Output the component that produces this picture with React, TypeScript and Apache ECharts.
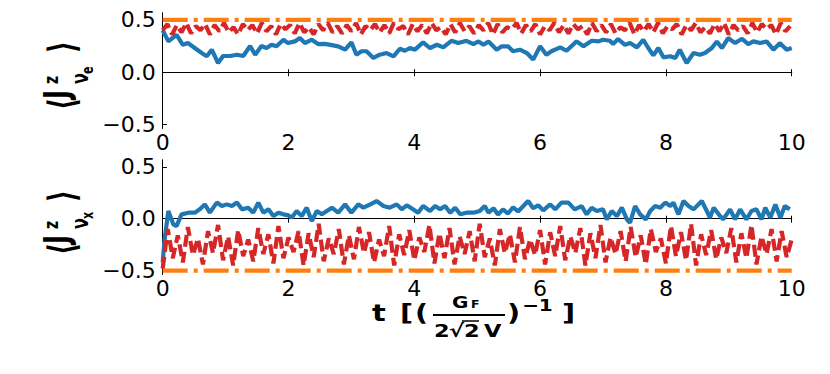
import React, { useEffect, useRef } from "react";
import * as echarts from "echarts";

const xTicks = [0, 2, 4, 6, 8, 10];
const yTicks = [-0.5, 0.0, 0.5];

// top panel: <J^z_{nu_e}>, blue solid [t, value]
const blueTop: [number, number][] = [
  [0, 0.40], [0.09, 0.294], [0.22, 0.357], [0.32, 0.262], [0.40, 0.278], [0.51, 0.231], [0.62, 0.183],
  [0.70, 0.152], [0.78, 0.215], [0.88, 0.088], [0.96, 0.155], [1.07, 0.155], [1.18, 0.167], [1.28, 0.155],
  [1.39, 0.25], [1.47, 0.167], [1.57, 0.25], [1.65, 0.231], [1.73, 0.262], [1.81, 0.247], [1.92, 0.31],
  [1.99, 0.278], [2.10, 0.294], [2.18, 0.326], [2.26, 0.278], [2.37, 0.31], [2.47, 0.269], [2.58, 0.27],
  [2.71, 0.256], [2.79, 0.247], [2.90, 0.215], [3.00, 0.285], [3.08, 0.167], [3.16, 0.2], [3.24, 0.2],
  [3.35, 0.136], [3.45, 0.167], [3.56, 0.183], [3.67, 0.152], [3.77, 0.224], [3.85, 0.205], [3.93, 0.231],
  [4.01, 0.215], [4.14, 0.285], [4.25, 0.231], [4.36, 0.262], [4.46, 0.237], [4.59, 0.3], [4.70, 0.278],
  [4.83, 0.3], [4.94, 0.269], [5.02, 0.294], [5.10, 0.262], [5.18, 0.294], [5.31, 0.215], [5.39, 0.247],
  [5.49, 0.247], [5.57, 0.2], [5.68, 0.215], [5.79, 0.183], [5.89, 0.12], [6.00, 0.247], [6.10, 0.167],
  [6.18, 0.2], [6.32, 0.237], [6.42, 0.205], [6.58, 0.294], [6.69, 0.247], [6.82, 0.3], [6.93, 0.294],
  [7.00, 0.31], [7.11, 0.3], [7.16, 0.269], [7.24, 0.316], [7.35, 0.262], [7.43, 0.278], [7.54, 0.237],
  [7.64, 0.31], [7.72, 0.231], [7.80, 0.161], [7.88, 0.231], [7.96, 0.142], [8.07, 0.152], [8.15, 0.136],
  [8.22, 0.215], [8.33, 0.088], [8.44, 0.183], [8.54, 0.167], [8.62, 0.183], [8.73, 0.231], [8.81, 0.294],
  [8.89, 0.231], [8.99, 0.326], [9.10, 0.278], [9.21, 0.319], [9.31, 0.269], [9.39, 0.294], [9.50, 0.278],
  [9.60, 0.294], [9.71, 0.215], [9.81, 0.278], [9.92, 0.215], [10.0, 0.231],
];

// top panel red dashed, sampled every TOP_RED_STEP
const TOP_RED_STEP = 0.075;
const redTop = [
  0.40, 0.46, 0.36, 0.45, 0.38, 0.47, 0.37, 0.44, 0.40, 0.46, 0.36, 0.45, 0.39, 0.47, 0.38, 0.43, 0.36, 0.46, 0.40, 0.45,
  0.37, 0.47, 0.39, 0.44, 0.36, 0.46, 0.41, 0.45, 0.37, 0.47, 0.38, 0.43, 0.36, 0.46, 0.40, 0.47, 0.38, 0.44, 0.37, 0.45,
  0.39, 0.47, 0.36, 0.44, 0.40, 0.46, 0.38, 0.45, 0.37, 0.47, 0.41, 0.44, 0.36, 0.46, 0.39, 0.45, 0.37, 0.47, 0.40, 0.43,
  0.36, 0.46, 0.38, 0.47, 0.39, 0.44, 0.37, 0.45, 0.40, 0.47, 0.36, 0.46, 0.38, 0.43, 0.41, 0.47, 0.37, 0.45, 0.39, 0.46,
  0.36, 0.44, 0.40, 0.47, 0.38, 0.45, 0.37, 0.46, 0.41, 0.44, 0.36, 0.47, 0.39, 0.45, 0.38, 0.46, 0.37, 0.43, 0.40, 0.47,
  0.36, 0.45, 0.39, 0.46, 0.38, 0.47, 0.37, 0.44, 0.41, 0.46, 0.36, 0.45, 0.40, 0.47, 0.38, 0.43, 0.37, 0.46, 0.39, 0.47,
  0.36, 0.45, 0.40, 0.44, 0.37, 0.47, 0.38, 0.46, 0.41, 0.45, 0.36, 0.47, 0.39, 0.44,
];
const orangeTop = 0.5;

// bottom panel: <J^z_{nu_x}>, blue solid [t, value]
const blueBottom: [number, number][] = [
  [0, -0.42], [0.03, -0.2], [0.09, 0.074], [0.17, -0.055], [0.22, -0.071], [0.30, 0.042], [0.41, 0.058],
  [0.51, 0.058], [0.59, 0.09], [0.67, 0.138], [0.75, 0.058], [0.86, 0.155], [0.94, 0.122], [1.02, 0.138],
  [1.10, 0.122], [1.18, 0.155], [1.26, 0.09], [1.36, 0.106], [1.44, 0.058], [1.52, 0.155], [1.60, 0.058],
  [1.68, 0.09], [1.76, 0.025], [1.84, 0.058], [1.92, 0.042], [2.00, 0.032], [2.05, 0.01], [2.13, 0.074],
  [2.21, 0.025], [2.29, 0.106], [2.37, -0.023], [2.45, 0.074], [2.53, 0.042], [2.69, 0.106], [2.79, 0.058],
  [2.90, 0.138], [3.00, 0.058], [3.11, 0.138], [3.19, 0.106], [3.30, 0.138], [3.40, 0.17], [3.51, 0.122],
  [3.61, 0.106], [3.72, 0.138], [3.80, 0.09], [3.88, 0.129], [3.98, 0.09], [4.06, 0.058], [4.14, 0.122],
  [4.25, 0.074], [4.33, 0.122], [4.41, 0.09], [4.49, 0.122], [4.57, 0.058], [4.65, 0.106], [4.73, 0.042],
  [4.83, 0.058], [4.94, 0.058], [5.04, 0.074], [5.12, 0.122], [5.18, 0.058], [5.26, 0.1], [5.33, 0.04],
  [5.41, 0.09], [5.49, 0.05], [5.57, 0.11], [5.65, 0.07], [5.73, 0.12], [5.81, 0.17], [5.89, 0.1],
  [5.97, 0.13], [6.05, 0.08], [6.16, 0.138], [6.24, 0.09], [6.34, 0.155], [6.45, 0.155], [6.55, 0.09],
  [6.66, 0.122], [6.74, 0.042], [6.82, 0.106], [6.90, 0.074], [7.00, 0.09], [7.06, -0.007], [7.14, 0.074],
  [7.22, 0.025], [7.30, 0.106], [7.38, -0.007], [7.43, -0.039], [7.51, 0.122], [7.59, 0.042], [7.68, -0.007],
  [7.75, 0.074], [7.83, 0.122], [7.91, 0.106], [7.99, 0.155], [8.07, 0.122], [8.12, 0.155], [8.20, 0.042],
  [8.28, 0.17], [8.36, 0.122], [8.44, 0.09], [8.57, 0.17], [8.65, 0.074], [8.70, 0.01], [8.76, 0.106],
  [8.84, 0.042], [8.91, -0.007], [9.02, 0.09], [9.10, -0.007], [9.18, 0.09], [9.28, -0.007], [9.36, 0.074],
  [9.44, 0.09], [9.52, -0.007], [9.58, 0.106], [9.66, 0.01], [9.74, 0.138], [9.82, 0.01], [9.89, 0.122],
  [9.97, 0.09],
];

// bottom panel red dashed, sampled every BOTTOM_RED_STEP
const BOTTOM_RED_STEP = 0.08;
const redBottom = [
  -0.48, -0.10, -0.38, -0.16, -0.42, -0.08, -0.35, -0.19, -0.44, -0.12, -0.33, -0.06, -0.40, -0.17, -0.45, -0.11, -0.36, -0.20, -0.41, -0.09,
  -0.34, -0.15, -0.43, -0.07, -0.38, -0.18, -0.32, -0.12, -0.45, -0.14, -0.37, -0.05, -0.41, -0.19, -0.34, -0.10, -0.44, -0.16, -0.39, -0.08,
  -0.33, -0.13, -0.42, -0.20, -0.36, -0.07, -0.45, -0.15, -0.35, -0.11, -0.40, -0.18, -0.32, -0.06, -0.43, -0.14, -0.38, -0.09, -0.44, -0.17,
  -0.34, -0.12, -0.41, -0.05, -0.37, -0.19, -0.45, -0.10, -0.33, -0.15, -0.42, -0.08, -0.39, -0.20, -0.35, -0.11, -0.44, -0.13, -0.36, -0.07,
  -0.40, -0.17, -0.33, -0.09, -0.45, -0.14, -0.38, -0.06, -0.42, -0.18, -0.34, -0.12, -0.41, -0.08, -0.37, -0.16, -0.44, -0.10, -0.32, -0.19,
  -0.43, -0.07, -0.36, -0.13, -0.40, -0.05, -0.45, -0.15, -0.35, -0.11, -0.39, -0.18, -0.33, -0.09, -0.42, -0.14, -0.38, -0.06, -0.44, -0.17,
  -0.34, -0.10, -0.41, -0.12, -0.37, -0.20,
];
const orangeBottom = -0.5;

const Y_MIN = -0.535;
const Y_MAX = 0.565;

const BLUE = "#1f77b4";
const ORANGE = "#ff7f0e";
const RED = "#d62728";
const FONT = "DejaVu Sans";

const fmtY = (v: number) => (v < 0 ? "\u2212" : "") + Math.abs(v).toFixed(1);

const txt = (text: string, x: number, y: number, fontSize: number, extra: any = {}) => ({
  type: "text",
  x,
  y,
  ...extra,
  style: { text, fontSize, fill: "#000", fontFamily: FONT, fontWeight: "bold", verticalAlign: "middle", align: "left" },
});

// rotated label; local x runs upward on screen, local y runs rightward (scaled)
function yLabel(cx: number, cy: number, flavour: string, closeAt: number) {
  return {
    type: "group",
    x: cx,
    y: cy,
    rotation: Math.PI / 2,
    scaleY: 1.45,
    children: [
      txt("\u27E8", -34, -1, 26),
      txt("J", -23, -5, 24),
      txt("z", -8, -9, 14),
      txt("\u03BD", -8, 11, 16),
      txt(flavour, 2, 16, 11),
      txt("\u27E9", closeAt, -1, 26),
    ],
  };
}

function xTitle() {
  const s = { scaleX: 1.25 };
  return {
    type: "group",
    children: [
      txt("t", 372, 313, 23, s),
      txt("[", 400, 313, 23, s),
      txt("(", 415, 313, 23, s),
      txt("G", 452, 302, 16, s),
      txt("F", 471, 305, 10, s),
      { type: "line", shape: { x1: 433, y1: 315, x2: 505, y2: 315 }, style: { stroke: "#000", lineWidth: 2 } },
      txt("2", 434, 331, 18, s),
      txt("\u221A", 449, 331, 18, s),
      { type: "line", shape: { x1: 462, y1: 321, x2: 479, y2: 321 }, style: { stroke: "#000", lineWidth: 1.5 } },
      txt("2", 464, 331, 18, s),
      txt("V", 484, 331, 18, s),
      txt(")", 507, 313, 23, s),
      txt("\u22121", 522, 305, 16, s),
      txt("]", 562, 313, 23, s),
    ],
  };
}

export default function App() {
  const ref = useRef<HTMLDivElement>(null);
  useEffect(() => {
    if (!ref.current) return;
    const chart = echarts.init(ref.current, undefined, { renderer: "svg" });
    const axisLine = { show: true, lineStyle: { color: "#000", width: 1 } };
    const mkX = (gi: number) => [
      {
        gridIndex: gi,
        type: "value",
        min: 0,
        max: 10,
        interval: 2,
        position: "bottom",
        axisLine,
        axisTick: { show: true, length: 4, lineStyle: { color: "#000" } },
        axisLabel: { fontSize: 22, color: "#000", fontFamily: FONT, margin: 3, formatter: (v: number) => (xTicks.includes(v) ? String(v) : "") },
        splitLine: { show: false },
      },
      {
        gridIndex: gi,
        type: "value",
        min: 0,
        max: 10,
        interval: 2,
        position: "top",
        axisLine,
        axisTick: { show: true, length: 3, lineStyle: { color: "#000" } },
        axisLabel: { show: false },
        splitLine: { show: false },
      },
    ];
    const mkY = (gi: number) => [
      {
        gridIndex: gi,
        type: "value",
        min: Y_MIN,
        max: Y_MAX,
        position: "left",
        axisLine,
        axisTick: { show: true, length: 4, inside: true, customValues: yTicks, lineStyle: { color: "#000" } },
        axisLabel: { fontSize: 22, color: "#000", fontFamily: FONT, margin: 7, customValues: yTicks, formatter: fmtY },
        splitLine: { show: false },
      },
      {
        gridIndex: gi,
        type: "value",
        min: Y_MIN,
        max: Y_MAX,
        position: "right",
        axisLine,
        axisTick: { show: true, length: 4, customValues: yTicks, lineStyle: { color: "#000" } },
        axisLabel: { show: false },
        splitLine: { show: false },
      },
    ];
    const lw = 4.2;
    chart.setOption({
      animation: false,
      backgroundColor: "#fff",
      grid: [
        { left: 162.7, top: 13, width: 629, height: 115.3 },
        { left: 162.7, top: 160, width: 629, height: 114.3 },
      ],
      xAxis: [...mkX(0), ...mkX(1)],
      yAxis: [...mkY(0), ...mkY(1)],
      series: [
        {
          type: "line", xAxisIndex: 0, yAxisIndex: 0, data: blueTop, showSymbol: false,
          lineStyle: { color: BLUE, width: lw }, z: 2,
        },
        {
          type: "line", xAxisIndex: 0, yAxisIndex: 0, data: [[0, orangeTop], [10, orangeTop]], showSymbol: false,
          lineStyle: { color: ORANGE, width: lw, type: [25, 6, 4, 6] }, z: 3,
        },
        {
          type: "line", xAxisIndex: 0, yAxisIndex: 0, data: redTop.map((v, i) => [i * TOP_RED_STEP, v]), showSymbol: false,
          lineStyle: { color: RED, width: lw, type: [12, 5] }, z: 4,
        },
        {
          type: "line", xAxisIndex: 2, yAxisIndex: 2, data: blueBottom, showSymbol: false,
          lineStyle: { color: BLUE, width: lw }, z: 2,
        },
        {
          type: "line", xAxisIndex: 2, yAxisIndex: 2, data: [[0, orangeBottom], [10, orangeBottom]], showSymbol: false,
          lineStyle: { color: ORANGE, width: lw, type: [25, 6, 4, 6] }, z: 3,
        },
        {
          type: "line", xAxisIndex: 2, yAxisIndex: 2, data: redBottom.map((v, i) => [i * BOTTOM_RED_STEP, v]), showSymbol: false,
          lineStyle: { color: RED, width: lw, type: [12, 5] }, z: 4,
        },
      ],
      graphic: [yLabel(64, 76, "e", 23), yLabel(64, 221, "x", 19), xTitle()],
    } as any);
    return () => chart.dispose();
  }, []);
  return <div ref={ref} style={{ position: "fixed", left: 0, top: 0, width: 830, height: 374 }} />;
}
